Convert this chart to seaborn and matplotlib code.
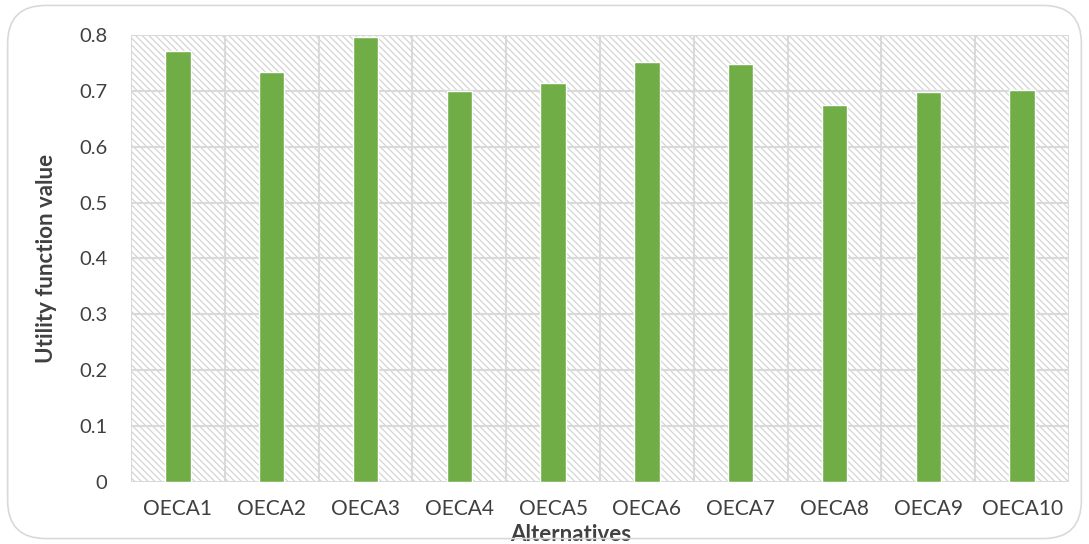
import matplotlib
matplotlib.use("Agg")
import matplotlib.pyplot as plt
import seaborn as sns
import pandas as pd
import numpy as np
from matplotlib.patches import Rectangle, FancyBboxPatch

categories = ["OECA1", "OECA2", "OECA3", "OECA4", "OECA5",
              "OECA6", "OECA7", "OECA8", "OECA9", "OECA10"]
values = [0.771, 0.733, 0.796, 0.700, 0.714, 0.751, 0.748, 0.675, 0.698, 0.702]
yticks = [0, 0.1, 0.2, 0.3, 0.4, 0.5, 0.6, 0.7, 0.8]
ytick_labels = ["0", "0.1", "0.2", "0.3", "0.4", "0.5", "0.6", "0.7", "0.8"]

df = pd.DataFrame({"Alternative": categories, "Value": values})

sns.set_style("white")
plt.rcParams["font.family"] = ["Lato", "DejaVu Sans"]
plt.rcParams["hatch.color"] = "#D4D4D4"
plt.rcParams["hatch.linewidth"] = 0.9

fig = plt.figure(figsize=(10.89, 5.44), dpi=100)
ax = fig.add_axes([0.1203, 0.114, 0.8613, 0.8217])

# hatched background
bg = Rectangle((0, 0), 1, 1, transform=ax.transAxes, facecolor="white",
               edgecolor="#D4D4D4", hatch="\\\\\\\\\\", linewidth=0, zorder=0)
ax.add_patch(bg)

sns.barplot(data=df, x="Alternative", y="Value", color="#70AD47",
            saturation=1, width=0.27, ax=ax, zorder=3)

ax.set_ylim(0, 0.8)
ax.set_xlim(-0.5, len(categories) - 0.5)
ax.set_yticks(yticks)
ax.set_yticklabels(ytick_labels)

# grid lines
for y in yticks:
    ax.axhline(y, color="#D9D9D9", lw=1.5, zorder=1)
for x in np.arange(-0.5, len(categories), 1.0):
    ax.axvline(x, color="#D9D9D9", lw=1.5, zorder=1)

for s in ax.spines.values():
    s.set_visible(False)

ax.tick_params(axis="both", length=0, colors="#404040")
ax.tick_params(axis="x", pad=12.5, labelsize=15)
ax.tick_params(axis="y", pad=17, labelsize=14.5)
ax.set_xlabel("Alternatives", fontsize=16, fontweight="bold", color="#404040")
ax.set_ylabel("Utility function value", fontsize=16, fontweight="bold", color="#404040")
ax.xaxis.set_label_coords(0.469, -0.093)
ax.yaxis.set_label_coords(-0.079, 0.5)

# rounded figure border
border = FancyBboxPatch((0.007, 0.01), 0.986, 0.98,
                        boxstyle="round,pad=0,rounding_size=0.035",
                        transform=fig.transFigure, facecolor="none",
                        edgecolor="#D9D9D9", linewidth=1.2,
                        mutation_aspect=1089 / 544)
fig.patches.append(border)

fig.savefig("out.png", dpi=100)
